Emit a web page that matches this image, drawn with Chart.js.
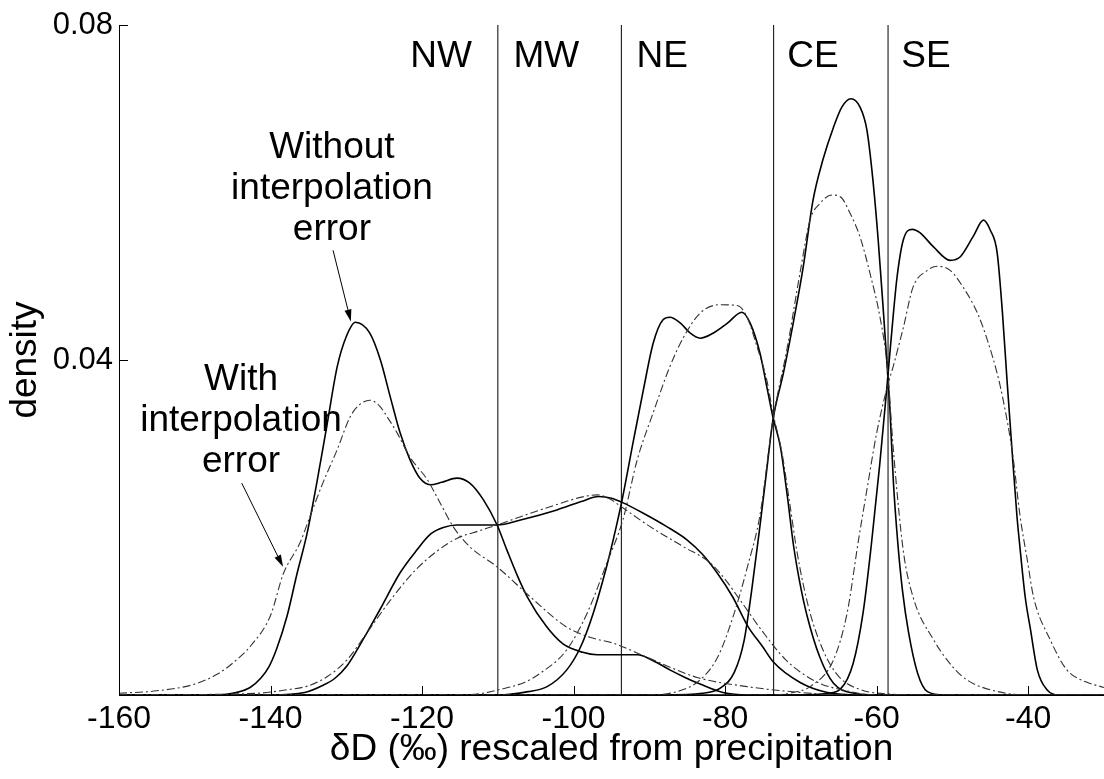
<!DOCTYPE html>
<html>
<head>
<meta charset="utf-8">
<title>Density of rescaled δD by region</title>
<script src="https://cdn.jsdelivr.net/npm/chart.js@4.4.1/dist/chart.umd.min.js"></script>
<style>
  html, body { margin: 0; padding: 0; background: #fff; overflow: hidden; }
  canvas { display: block; }
</style>
</head>
<body>
<canvas id="chart" width="1104" height="779"></canvas>
<script>
// Axis ticks
const xTicks = [-160, -140, -120, -100, -80, -60, -40];
const yTicks = [0, 0.04, 0.08];

// Region names and the δD boundaries separating them
const regionNames = ['NW', 'MW', 'NE', 'CE', 'SE'];
const regionBounds = [-110, -93.7, -73.6, -58.5];

// Kernel density curves, [δD, density]; "without" = without interpolation error,
// "with" = with interpolation error
const nwWithout = [[-160,0],[-147,0],[-144.5,0.0003],[-142.7,0.0009],[-141.3,0.002],[-140.2,0.0034],[-139.2,0.0055],[-137.8,0.0095],[-136.5,0.0145],[-135.2,0.0192],[-133.9,0.0253],[-132.5,0.0325],[-131.2,0.0392],[-130,0.0428],[-128.8,0.0445],[-126.9,0.0432],[-125.5,0.04],[-124.2,0.0356],[-122.9,0.0313],[-121.6,0.0281],[-120.3,0.0259],[-118.9,0.0251],[-117.4,0.0254],[-115.4,0.0259],[-113.7,0.0253],[-111.9,0.0233],[-110.1,0.0203],[-108.8,0.0173],[-107.4,0.0142],[-106.1,0.0117],[-103.6,0.0082],[-101.4,0.0061],[-98.8,0.0051],[-96.9,0.0048],[-91.6,0.0048],[-89.5,0.0041],[-87.3,0.003],[-85.3,0.0021],[-83.3,0.0013],[-80.3,0.0003],[-77,0],[-30,0]];
const nwWith = [[-160,0.0002],[-155,0.0005],[-150,0.0013],[-147,0.0025],[-145,0.0038],[-142.5,0.006],[-140,0.0095],[-138.3,0.0145],[-136.1,0.0182],[-134.8,0.0213],[-133.1,0.0253],[-131.2,0.0293],[-129.5,0.0332],[-128.2,0.0347],[-126.9,0.0352],[-125.6,0.0345],[-124.6,0.0332],[-123.3,0.0313],[-121.6,0.0284],[-119.3,0.0257],[-117.6,0.0229],[-115.9,0.0201],[-113.7,0.0177],[-110.1,0.0153],[-105.7,0.0117],[-100.9,0.0081],[-97.5,0.0068],[-94.8,0.0062],[-90.3,0.0045],[-83.7,0.0021],[-77.1,0.001],[-70,0.0003],[-64,0],[-30,0]];

const mwWithout = [[-160,0],[-140,0],[-135.5,0.0003],[-133,0.0012],[-131.5,0.002],[-129.9,0.0035],[-128.5,0.0055],[-127.3,0.0074],[-125.5,0.0103],[-122.9,0.0146],[-120.7,0.0173],[-118.9,0.0192],[-117.2,0.02],[-115.4,0.0203],[-112.5,0.0203],[-110.1,0.0203],[-107,0.0209],[-102.2,0.0221],[-99,0.0231],[-96.7,0.0237],[-95,0.0235],[-93.6,0.023],[-90.8,0.0217],[-87.7,0.0201],[-85,0.0185],[-83,0.0168],[-81,0.0145],[-79,0.0117],[-77,0.0082],[-75,0.0057],[-73.7,0.004],[-70.1,0.0015],[-66.5,0.0003],[-62,0],[-30,0]];
const mwWith = [[-160,0],[-142,0.0002],[-138,0.0006],[-135,0.0011],[-132.5,0.0022],[-129.9,0.0042],[-127.3,0.0074],[-124.2,0.0113],[-121,0.0148],[-118,0.0172],[-115.4,0.0187],[-112.5,0.0196],[-110.1,0.0203],[-105.7,0.0217],[-102,0.0228],[-99.1,0.0236],[-96.9,0.0239],[-95.2,0.0234],[-93.9,0.0226],[-89.9,0.0201],[-85.5,0.0177],[-82,0.0158],[-80,0.0138],[-78,0.0113],[-75,0.0075],[-72,0.0042],[-68,0.0016],[-64,0.0005],[-60,0],[-30,0]];

const neWithout = [[-160,0],[-110,0],[-106,0.0004],[-103.5,0.001],[-100.9,0.003],[-99.1,0.0057],[-97.4,0.0098],[-95.6,0.0155],[-94.5,0.0196],[-93.6,0.0233],[-92.1,0.0304],[-90.8,0.0364],[-89.5,0.042],[-88.2,0.0448],[-87.3,0.0451],[-85.9,0.0444],[-84.6,0.0432],[-83.3,0.0426],[-81.6,0.0432],[-79.7,0.0444],[-77.8,0.0457],[-76.7,0.0444],[-75.4,0.0408],[-74.5,0.0368],[-73.7,0.0332],[-72.7,0.0296],[-71.8,0.0238],[-71,0.018],[-70.1,0.0132],[-69.2,0.0095],[-67.5,0.0045],[-65.7,0.0014],[-63,0.0002],[-60,0],[-30,0]];
const neWith = [[-160,0],[-116,0],[-112,0.0002],[-110,0.0006],[-106.5,0.0015],[-104.4,0.0026],[-100.9,0.0054],[-98.2,0.0098],[-95.6,0.0158],[-93.5,0.0209],[-91.6,0.0281],[-89.5,0.0337],[-87.3,0.0392],[-85.5,0.0427],[-83.3,0.0456],[-80.7,0.0466],[-78.4,0.0465],[-77.1,0.0451],[-75.8,0.0416],[-74.5,0.0376],[-73.7,0.0337],[-72.5,0.0289],[-71.4,0.0224],[-70.5,0.017],[-69,0.0105],[-67,0.0052],[-65,0.0022],[-62,0.0006],[-58,0.0001],[-55,0],[-30,0]];

const ceWithout = [[-160,0],[-88,0],[-83,0.0002],[-80.7,0.0008],[-78.8,0.0027],[-77.5,0.0065],[-76.5,0.0125],[-75.5,0.0195],[-74.6,0.0262],[-73.7,0.0328],[-72.3,0.0385],[-71,0.0445],[-69.7,0.0511],[-68.4,0.0591],[-67.1,0.0639],[-65.7,0.0678],[-64.6,0.0702],[-63.4,0.0712],[-62.2,0.0702],[-61.3,0.0675],[-60.5,0.0615],[-59.8,0.0543],[-59.1,0.0456],[-58.6,0.039],[-58.2,0.0332],[-57.8,0.0255],[-57.2,0.018],[-56.6,0.0125],[-55.8,0.0075],[-54.6,0.0026],[-53.3,0.0004],[-51,0],[-30,0]];
const ceWith = [[-160,0],[-90,0],[-86,0.0005],[-83.3,0.0018],[-81,0.0045],[-78.9,0.0095],[-77,0.0155],[-75.4,0.0215],[-73.7,0.0328],[-71.8,0.0415],[-70.1,0.0505],[-68.8,0.0567],[-67.5,0.0587],[-65.9,0.0597],[-64.8,0.0595],[-63.5,0.0575],[-62.2,0.0547],[-60.9,0.0504],[-59.5,0.0448],[-58.6,0.0392],[-57.8,0.0293],[-56.5,0.0173],[-55.2,0.0117],[-52.5,0.0066],[-50,0.0034],[-48.1,0.0018],[-44,0.0004],[-40,0],[-30,0]];

const seWithout = [[-160,0],[-70,0],[-66.5,0.0002],[-64.8,0.0007],[-63.1,0.0038],[-61.8,0.0098],[-60.7,0.018],[-59.6,0.0275],[-58.6,0.0373],[-57.8,0.0455],[-57.3,0.05],[-56.5,0.0543],[-55.3,0.0556],[-54.3,0.0552],[-52.5,0.0535],[-50.3,0.0519],[-49,0.0523],[-47.3,0.0547],[-45.9,0.0567],[-45,0.0555],[-44.1,0.0528],[-43.4,0.0456],[-42.8,0.0376],[-42.2,0.03],[-41.5,0.0215],[-41.1,0.0177],[-40.4,0.0117],[-39.7,0.0078],[-38.8,0.003],[-37.5,0.0006],[-36,0],[-30,0]];
const seWith = [[-160,0],[-74,0],[-71,0.0003],[-68.8,0.001],[-65.7,0.0042],[-63.9,0.0098],[-62.4,0.0185],[-61.2,0.025],[-60,0.0313],[-58.6,0.0368],[-57.8,0.0393],[-56.9,0.0424],[-56.5,0.0438],[-55.2,0.0487],[-53.3,0.0507],[-52,0.0512],[-50.3,0.0507],[-48.6,0.0487],[-46.7,0.0456],[-45.4,0.0424],[-44.1,0.0384],[-43.3,0.0352],[-42,0.0284],[-41.1,0.0215],[-40.1,0.016],[-39.3,0.0117],[-37.1,0.0066],[-34.9,0.003],[-32.5,0.0016],[-30,0.0009]];

const curvesWithout = [nwWithout, mwWithout, neWithout, ceWithout, seWithout];
const curvesWith = [nwWith, mwWith, neWith, ceWith, seWith];

const FONT = '"Liberation Sans", Arial, Helvetica, sans-serif';
const toPoints = arr => arr.map(([x, y]) => ({ x, y }));

const datasets = [];
regionNames.forEach((name, i) => {
  datasets.push({
    label: name + ' with interpolation error',
    data: toPoints(curvesWith[i]),
    borderColor: '#333',
    borderWidth: 1.1,
    borderDash: [8, 3, 2, 3],
    pointRadius: 0,
    cubicInterpolationMode: 'monotone',
    fill: false
  });
});
regionNames.forEach((name, i) => {
  datasets.push({
    label: name + ' without interpolation error',
    data: toPoints(curvesWithout[i]),
    borderColor: '#000',
    borderWidth: 1.6,
    pointRadius: 0,
    cubicInterpolationMode: 'monotone',
    fill: false
  });
});
// Region boundary lines spanning the full density range
regionBounds.forEach(b => {
  datasets.push({
    label: 'boundary ' + b,
    data: [{ x: b, y: yTicks[0] }, { x: b, y: yTicks[yTicks.length - 1] }],
    borderColor: '#000',
    borderWidth: 1,
    pointRadius: 0,
    fill: false
  });
});

function drawArrow(ctx, x1, y1, x2, y2) {
  const ang = Math.atan2(y2 - y1, x2 - x1);
  const len = 12, half = 3.5;
  const bx = x2 - len * Math.cos(ang), by = y2 - len * Math.sin(ang);
  ctx.beginPath();
  ctx.moveTo(x1, y1);
  ctx.lineTo(bx, by);
  ctx.stroke();
  ctx.beginPath();
  ctx.moveTo(x2, y2);
  ctx.lineTo(bx + half * Math.sin(ang), by - half * Math.cos(ang));
  ctx.lineTo(bx - half * Math.sin(ang), by + half * Math.cos(ang));
  ctx.closePath();
  ctx.fill();
}

// Inward tick marks, region names and the two callouts
const overlay = {
  id: 'overlay',
  afterDatasetsDraw(chart, args, opts) {
    const { ctx, chartArea: a, scales: { x, y } } = chart;
    ctx.save();
    ctx.strokeStyle = '#000';
    ctx.fillStyle = '#000';
    ctx.lineWidth = 1;
    xTicks.forEach(v => {
      const px = Math.round(x.getPixelForValue(v)) + 0.5;
      ctx.beginPath();
      ctx.moveTo(px, a.bottom);
      ctx.lineTo(px, a.bottom - opts.tickLength);
      ctx.stroke();
    });
    yTicks.forEach(v => {
      const py = Math.round(y.getPixelForValue(v)) + 0.5;
      ctx.beginPath();
      ctx.moveTo(a.left, py);
      ctx.lineTo(a.left + opts.tickLength, py);
      ctx.stroke();
    });

    ctx.font = opts.fontSize + 'px ' + FONT;
    ctx.textAlign = 'center';
    ctx.textBaseline = 'alphabetic';
    regionNames.forEach((n, i) => {
      ctx.fillText(n, x.getPixelForValue(opts.regionLabelX[i]), y.getPixelForValue(opts.regionLabelY));
    });

    opts.notes.forEach(note => {
      const cx = x.getPixelForValue(note.x);
      const cy = y.getPixelForValue(note.y);
      note.lines.forEach((t, k) => ctx.fillText(t, cx, cy + k * opts.lineGap));
      drawArrow(ctx,
        x.getPixelForValue(note.from[0]), y.getPixelForValue(note.from[1]),
        x.getPixelForValue(note.to[0]), y.getPixelForValue(note.to[1]));
    });
    ctx.restore();
  }
};

new Chart(document.getElementById('chart'), {
  type: 'line',
  data: { datasets },
  plugins: [overlay],
  options: {
    responsive: false,
    animation: false,
    devicePixelRatio: 1,
    layout: { padding: { top: 25, right: 0, left: 0, bottom: 0 } },
    plugins: {
      legend: { display: false },
      tooltip: { enabled: false },
      overlay: {
        tickLength: 9,
        fontSize: 37,
        lineGap: 41,
        regionLabelX: [-117.5, -103.6, -88.3, -68.4, -53.5],
        regionLabelY: 0.0750,
        notes: [
          { lines: ['Without', 'interpolation', 'error'], x: -131.9, y: 0.0641,
            from: [-131.75, 0.0531], to: [-129.4, 0.0446] },
          { lines: ['With', 'interpolation', 'error'], x: -143.9, y: 0.0364,
            from: [-143.8, 0.0253], to: [-138.35, 0.0153] }
        ]
      }
    },
    scales: {
      x: {
        type: 'linear',
        min: -160,
        max: -30,
        afterBuildTicks: s => { s.ticks = xTicks.map(v => ({ value: v })); },
        afterFit: s => { s.height = 84; },
        grid: { display: false, drawTicks: false },
        border: { display: true, color: '#000', width: 1 },
        ticks: {
          color: '#000',
          padding: 5,
          maxRotation: 0,
          autoSkip: false,
          font: { family: FONT, size: 32 },
          callback: v => String(v)
        },
        title: {
          display: true,
          text: 'δD (‰) rescaled from precipitation',
          color: '#000',
          font: { family: FONT, size: 37 },
          padding: { top: 0, bottom: 7 }
        }
      },
      y: {
        type: 'linear',
        min: 0,
        max: 0.08,
        afterBuildTicks: s => { s.ticks = yTicks.map(v => ({ value: v })); },
        afterFit: s => { s.width = 119; },
        grid: { display: false, drawTicks: false },
        border: { display: true, color: '#000', width: 1 },
        ticks: {
          color: '#000',
          padding: 6,
          autoSkip: false,
          font: { family: FONT, size: 31 },
          callback: v => (v === 0 ? '' : v.toFixed(2))
        },
        title: {
          display: true,
          text: 'density',
          color: '#000',
          font: { family: FONT, size: 37 },
          padding: { top: 4, bottom: 0 }
        }
      }
    }
  }
});
</script>
</body>
</html>
